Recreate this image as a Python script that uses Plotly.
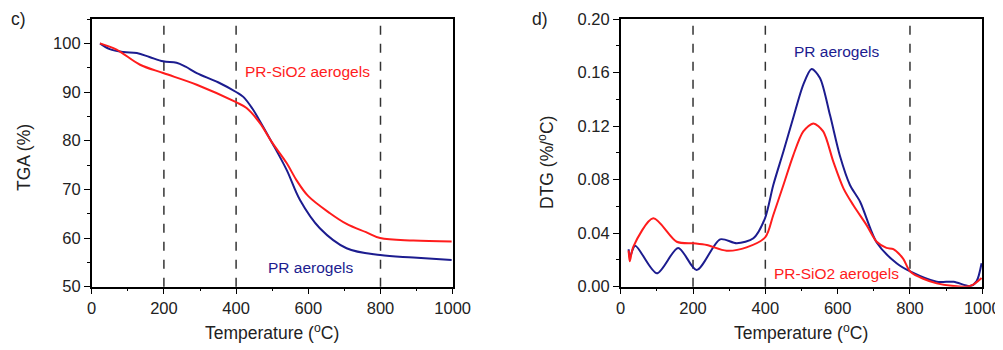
import plotly.graph_objects as go

# ---- TGA data (panel c) ----
tga_pr_x = [23, 50, 88, 125, 160, 198, 235, 260, 291, 350, 400, 420, 445, 470, 498, 540, 577, 632, 706, 799, 891, 997]
tga_pr_y = [100, 98.8, 98.2, 98.0, 97.2, 96.3, 96.0, 95.2, 93.9, 92.0, 90.0, 89.0, 86.6, 83.5, 79.8, 74.0, 67.8, 62.0, 57.9, 56.5, 56.0, 55.5]
tga_si_x = [23, 69, 134, 198, 291, 400, 429, 466, 498, 540, 568, 600, 660, 706, 760, 799, 891, 997]
tga_si_y = [100, 98.7, 95.6, 93.9, 91.5, 87.9, 86.7, 83.6, 79.8, 75.4, 71.8, 68.6, 65.1, 62.9, 61.2, 60.0, 59.5, 59.3]

# ---- DTG data (panel d) ----
dtg_pr_x = [22, 25, 40, 100, 159, 210, 275, 321, 367, 399, 422, 450, 477, 505, 528, 551, 579, 606, 634, 662, 708, 763, 802, 874, 921, 966, 984, 998]
dtg_pr_y = [0.028, 0.022, 0.0306, 0.010, 0.029, 0.0125, 0.0354, 0.0324, 0.0362, 0.0511, 0.076, 0.101, 0.126, 0.151, 0.1626, 0.156, 0.128, 0.098, 0.076, 0.0635, 0.033, 0.0175, 0.0112, 0.0037, 0.0037, 0.0005, 0.004, 0.0175]
dtg_si_x = [22, 25, 35, 90, 155, 201, 238, 293, 348, 400, 422, 450, 477, 505, 533, 560, 588, 616, 643, 680, 708, 735, 754, 781, 802, 874, 966, 998]
dtg_si_y = [0.027, 0.019, 0.030, 0.0511, 0.0336, 0.0324, 0.0311, 0.0269, 0.0294, 0.037, 0.0536, 0.076, 0.098, 0.116, 0.122, 0.116, 0.0934, 0.0735, 0.061, 0.046, 0.0336, 0.029, 0.028, 0.021, 0.011, 0.0025, 0.0005, 0.0065]

vlines = [200, 400, 800]
x_ticks = [0, 200, 400, 600, 800, 1000]
tga_ticks = [50, 60, 70, 80, 90, 100]
dtg_ticks = [0.00, 0.04, 0.08, 0.12, 0.16, 0.20]

BLUE = "#1c1c8f"
RED = "#ff1c1c"
FONT = "Liberation Sans, Arial, sans-serif"

# page body has an 8px margin; figure is sized to fill the rest of the window
OFF = 8
W, H = 1003 - OFF, 350 - OFF

def dx(px):
    return (px - OFF) / W

def dy(py):
    return 1 - (py - OFF) / H

fig = go.Figure()
fig.add_trace(go.Scatter(x=tga_pr_x, y=tga_pr_y, mode="lines", line=dict(color=BLUE, width=2, shape="spline", smoothing=1.0), xaxis="x", yaxis="y"))
fig.add_trace(go.Scatter(x=tga_si_x, y=tga_si_y, mode="lines", line=dict(color=RED, width=2, shape="spline", smoothing=1.0), xaxis="x", yaxis="y"))
fig.add_trace(go.Scatter(x=dtg_pr_x, y=dtg_pr_y, mode="lines", line=dict(color=BLUE, width=2, shape="spline", smoothing=0.8), xaxis="x2", yaxis="y2"))
fig.add_trace(go.Scatter(x=dtg_si_x, y=dtg_si_y, mode="lines", line=dict(color=RED, width=2, shape="spline", smoothing=0.8), xaxis="x2", yaxis="y2"))

ax_common = dict(showline=True, linecolor="black", linewidth=1.5, mirror=True,
                 ticks="outside", ticklen=6, tickwidth=1.2, tickcolor="black",
                 showgrid=False, zeroline=False,
                 tickfont=dict(family=FONT, size=16.5, color="#222"))

ydom = [dy(286.7), dy(19)]
fig.update_layout(
    width=W, height=H, margin=dict(l=0, r=0, t=0, b=0, autoexpand=False),
    plot_bgcolor="white", paper_bgcolor="white", showlegend=False,
    xaxis=dict(domain=[dx(91.7), dx(452.7)], range=[0, 1000], tickvals=x_ticks, anchor="y",
               minor=dict(ticks="outside", ticklen=3, dtick=100, tickcolor="black"), **ax_common),
    yaxis=dict(domain=ydom, range=[50, 105], tickvals=tga_ticks, anchor="x",
               minor=dict(ticks="outside", ticklen=3, dtick=5, tickcolor="black"), **ax_common),
    xaxis2=dict(domain=[dx(620.7), dx(982.3)], range=[0, 1000], tickvals=x_ticks, anchor="y2",
                minor=dict(ticks="outside", ticklen=3, dtick=100, tickcolor="black"), **ax_common),
    yaxis2=dict(domain=ydom, range=[0, 0.20], tickvals=dtg_ticks, tickformat=".2f", anchor="x2",
                minor=dict(ticks="outside", ticklen=3, dtick=0.02, tickcolor="black"), **ax_common),
)

for xr in ["x", "x2"]:
    yr = "y" if xr == "x" else "y2"
    for v in vlines:
        fig.add_shape(type="line", x0=v, x1=v, y0=0, y1=1, xref=xr, yref=yr + " domain",
                      line=dict(color="#333", width=1.5, dash="dash"), layer="below")

def ann(text, x, y, size=17.5, color="#222", angle=0):
    fig.add_annotation(text=text, x=dx(x), y=dy(y), xref="paper", yref="paper",
                       showarrow=False, xanchor="center", yanchor="middle", textangle=angle,
                       font=dict(family=FONT, size=size, color=color))

ann("c)", 18, 19)
ann("d)", 540, 19)
ann("Temperature (<sup>o</sup>C)", 272, 332)
ann("Temperature (<sup>o</sup>C)", 801, 332)
ann("TGA (%)", 24, 158, angle=-90)
ann("DTG (%/<sup>o</sup>C)", 546, 163, angle=-90)
ann("PR-SiO2 aerogels", 307, 71, size=15.5, color=RED)
ann("PR aerogels", 311, 267, size=15.5, color=BLUE)
ann("PR aerogels", 837, 51, size=15.5, color=BLUE)
ann("PR-SiO2 aerogels", 836, 273, size=15.5, color=RED)

fig.write_html("out.html")
